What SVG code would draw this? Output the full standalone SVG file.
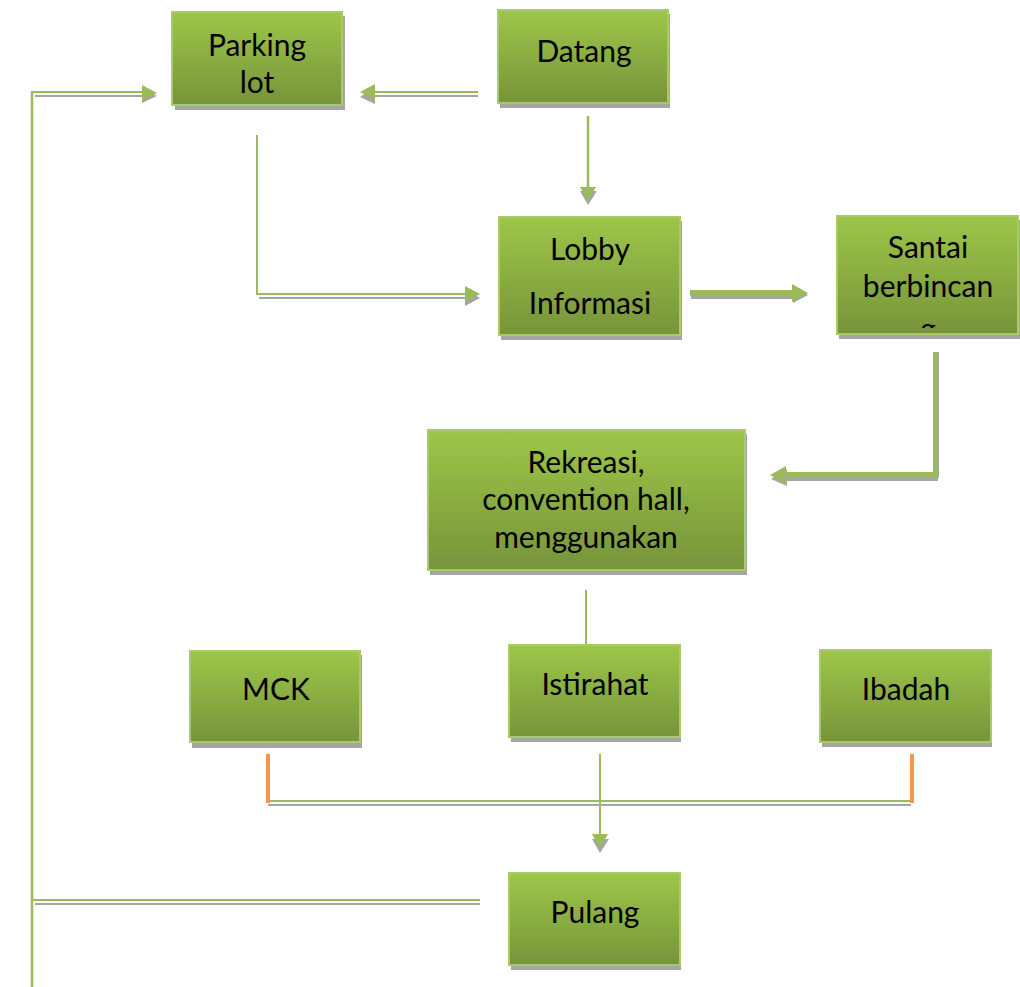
<svg xmlns="http://www.w3.org/2000/svg" width="1020" height="987" viewBox="0 0 1020 987">
<defs>
<linearGradient id="g" x1="0" y1="0" x2="0" y2="1">
<stop offset="0" stop-color="#9DC649"/>
<stop offset="1" stop-color="#77943A"/>
</linearGradient>
<clipPath id="clipSantai"><rect x="837" y="216" width="181" height="112"/></clipPath>
</defs>
<style>
.box{fill:url(#g);stroke:#A9CB67;stroke-width:2}
.sh{fill:#A5A5A5}
.t{font-family:Lato,"Open Sans",sans-serif;font-size:30px;fill:#000;text-anchor:middle}
.gl{stroke:#9BBB59;fill:none}
.gy{stroke:#A5A5A5;fill:none}
.ah{fill:#9BBB59}
.ahs{fill:#A5A5A5}
.or{stroke:#F79646;stroke-width:4;fill:none}
</style>
<rect width="1020" height="987" fill="#fff"/>

<g id="connectors">
  <!-- left loop -->
  <line class="gy" x1="35" y1="96" x2="145" y2="96" stroke-width="2"/>
  <line class="gl" x1="32" y1="92" x2="145" y2="92" stroke-width="2"/>
  <line class="gl" x1="32" y1="91" x2="32" y2="987" stroke-width="2.5"/>
  <polygon class="ahs" points="142,87 142,103 157,96"/>
  <polygon class="ah" points="142,85 142,100 157,93"/>
  <line class="gy" x1="35" y1="904" x2="480" y2="904" stroke-width="2"/>
  <line class="gl" x1="33" y1="900" x2="480" y2="900" stroke-width="2"/>

  <!-- Datang -> Parking -->
  <line class="gy" x1="372" y1="96" x2="478" y2="96" stroke-width="2"/>
  <line class="gl" x1="372" y1="92" x2="478" y2="92" stroke-width="2"/>
  <polygon class="ahs" points="375,87 375,104 360,97"/>
  <polygon class="ah" points="375,84 375,100 360,92"/>

  <!-- Parking -> Lobby -->
  <line class="gl" x1="257" y1="135" x2="257" y2="294" stroke-width="2"/>
  <line class="gy" x1="259" y1="298" x2="468" y2="298" stroke-width="2"/>
  <line class="gl" x1="256" y1="294" x2="468" y2="294" stroke-width="2"/>
  <polygon class="ahs" points="465,289 465,306 480,298"/>
  <polygon class="ah" points="465,286 465,302 480,294"/>

  <!-- Datang -> Lobby -->
  <line class="gl" x1="588" y1="116" x2="588" y2="190" stroke-width="2.5"/>
  <polygon class="ahs" points="580,191 597,191 588,205"/>
  <polygon class="ah" points="580,187 596,187 588,201"/>

  <!-- Lobby -> Santai -->
  <rect class="sh" x="691" y="294" width="104" height="5"/>
  <rect x="690" y="290" width="104" height="6" fill="#9BBB59"/>
  <polygon class="ahs" points="793,287 793,303 808,295"/>
  <polygon class="ah" points="792,284 792,302 808,293"/>

  <!-- Santai -> Rekreasi -->
  <rect class="sh" x="936" y="352" width="3" height="126"/>
  <rect x="933" y="352" width="5" height="124" fill="#9BBB59"/>
  <rect class="sh" x="785" y="476" width="153" height="5"/>
  <rect x="784" y="472" width="154" height="6" fill="#9BBB59"/>
  <polygon class="ahs" points="787,469 787,486 771,479"/>
  <polygon class="ah" points="786,466 786,484 770,475"/>

  <!-- Rekreasi -> Istirahat -->
  <line class="gl" x1="586" y1="590" x2="586" y2="645" stroke-width="2"/>

  <!-- MCK / Ibadah join -->
  <line class="gy" x1="268" y1="805" x2="911" y2="805" stroke-width="2"/>
  <line class="gl" x1="270" y1="801" x2="912" y2="801" stroke-width="2"/>
  <line class="or" x1="268" y1="754" x2="268" y2="803"/>
  <line class="or" x1="912" y1="754" x2="912" y2="803"/>

  <!-- Istirahat -> Pulang -->
  <line class="gl" x1="600" y1="754" x2="600" y2="840" stroke-width="2"/>
  <polygon class="ahs" points="592,839 609,839 600,853"/>
  <polygon class="ah" points="592,834 608,834 600,848"/>
</g>

<g id="parking">
  <rect class="sh" x="175" y="16" width="170" height="94"/>
  <rect class="box" x="172" y="12" width="170" height="93"/>
  <text class="t" x="257" y="56">Parking</text>
  <text class="t" x="257" y="93">lot</text>
</g>

<g id="datang">
  <rect class="sh" x="500" y="14" width="170" height="94"/>
  <rect class="box" x="498" y="10" width="170" height="93"/>
  <text class="t" x="584" y="62">Datang</text>
</g>

<g id="lobby">
  <rect class="sh" x="501" y="221" width="181" height="119"/>
  <rect class="box" x="499" y="217" width="181" height="118"/>
  <text class="t" x="590" y="260">Lobby</text>
  <text class="t" x="590" y="314">Informasi</text>
</g>

<g id="santai">
  <rect class="sh" x="839" y="220" width="181" height="119"/>
  <rect class="box" x="837" y="216" width="181" height="118"/>
  <text class="t" x="928" y="258">Santai</text>
  <text class="t" x="928" y="297">berbincan</text>
  <text class="t" x="928" y="340" clip-path="url(#clipSantai)">g</text>
</g>

<g id="rekreasi">
  <rect class="sh" x="430" y="434" width="317" height="141"/>
  <rect class="box" x="428" y="430" width="317" height="140"/>
  <text class="t" x="586" y="473">Rekreasi,</text>
  <text class="t" x="586" y="510">convention hall,</text>
  <text class="t" x="586" y="548">menggunakan</text>
</g>

<g id="mck">
  <rect class="sh" x="192" y="655" width="170" height="93"/>
  <rect class="box" x="190" y="651" width="170" height="91"/>
  <text class="t" x="276" y="700">MCK</text>
</g>

<g id="istirahat">
  <rect class="sh" x="511" y="649" width="170" height="93"/>
  <rect class="box" x="509" y="645" width="171" height="92"/>
  <text class="t" x="595" y="695">Istirahat</text>
</g>

<g id="ibadah">
  <rect class="sh" x="822" y="654" width="170" height="93"/>
  <rect class="box" x="820" y="650" width="171" height="92"/>
  <text class="t" x="906" y="700">Ibadah</text>
</g>

<g id="pulang">
  <rect class="sh" x="511" y="877" width="170" height="93"/>
  <rect class="box" x="509" y="873" width="171" height="92"/>
  <text class="t" x="595" y="923">Pulang</text>
</g>
</svg>
